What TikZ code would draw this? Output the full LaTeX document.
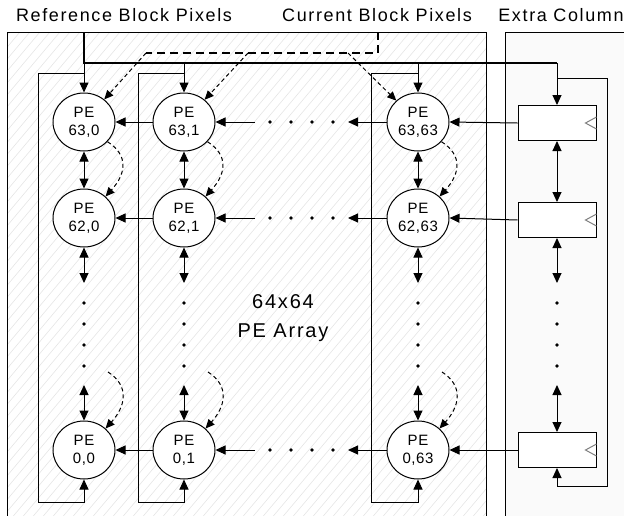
\documentclass[tikz,border=0pt]{standalone}
\usepackage{fontspec}
\setmainfont{Liberation Sans}
\newfontfamily\lblfont[LetterSpace=9]{Liberation Sans}
\newfontfamily\pefont[LetterSpace=4]{Liberation Sans}
\usetikzlibrary{shapes.geometric,arrows.meta}

\tikzset{
  pe/.style={ellipse,draw,fill=white,minimum width=62pt,minimum height=58pt,inner sep=0pt,align=center,font=\fontsize{15}{18}\pefont},
  reg/.style={rectangle,draw,fill=white,minimum width=78pt,minimum height=35pt,inner sep=0pt},
  arr/.style={-{Triangle[length=10pt,width=9pt]}},
  darr/.style={{Triangle[length=10pt,width=9pt]}-{Triangle[length=10pt,width=9pt]}},
  dasharr/.style={dash pattern=on 4pt off 3pt,-{Triangle[length=9pt,width=8pt]}},
  bus/.style={line width=2.5pt},
  lbl/.style={font=\fontsize{18}{20}\lblfont},
}

\begin{document}
\begin{tikzpicture}[x=1pt,y=-1pt,line width=1pt]
\useasboundingbox (0,0) rectangle (624,515);
% hatched array panel and the extra column panel
\begin{scope}
  \clip (7,32) rectangle (486,520);
  \foreach \i in {-45,...,49}
    \draw[black!10,line width=0.6pt] (\i*10,520) -- ++(420,-500);
\end{scope}
\draw (7,32) rectangle (486,520);
\filldraw[fill=black!2] (505,32) rectangle (630,520);

% titles
\node[lbl] (reflbl) at (124,15) {Reference Block Pixels};
\node[lbl] (curlbl) at (377,15) {Current Block Pixels};
\node[lbl] (extlbl) at (561,15) {Extra Column};
\node[font=\fontsize{20}{29}\lblfont,align=center] (arrlbl) at (283,318) {64x64\\PE Array};

% the PEs, row by row
\node[pe] (p630) at (84,122) {PE\\63,0};
\node[pe] (p631) at (184,122) {PE\\63,1};
\node[pe] (p6363) at (418,122) {PE\\63,63};
\node[pe] (p620) at (84,218) {PE\\62,0};
\node[pe] (p621) at (184,218) {PE\\62,1};
\node[pe] (p6263) at (418,218) {PE\\62,63};
\node[pe] (p00) at (84,450) {PE\\0,0};
\node[pe] (p01) at (184,450) {PE\\0,1};
\node[pe] (p063) at (418,450) {PE\\0,63};

% registers of the extra column
\node[reg] (r63) at (557,123) {};
\node[reg] (r62) at (557,220) {};
\node[reg] (r0) at (557,450) {};
\foreach \r in {63,62,0}
  \draw[black!50] ([yshift=6pt]r\r.east) -- ++(-11,6) -- ++(11,6);

% free ends
\foreach \r/\y in {63/122,62/218,0/450} {
  \coordinate (din\r) at (255,\y);
  \coordinate (dout\r) at (348,\y);
  \foreach \x in {270,291,312,333} \fill (\x,\y) circle (1.8pt);
}
\foreach \c/\x/\lx in {0/84/38,1/184/138,63/418/371,x/557/607} {
  \coordinate (vt\c) at (\x,283);
  \coordinate (vb\c) at (\x,385);
  \coordinate (bus\c) at (\x,63);
  \coordinate (top\c) at (\x,73);
  \coordinate (lb\c) at (\lx,502);
  \coordinate (cv\c) at (\x+24,372);
  \foreach \y in {303,324,345,366} \fill (\x,\y) circle (1.8pt);
}
\coordinate (reftop) at (84,32);
\coordinate (curtop) at (378,32);
\coordinate (curbend) at (378,53);
\coordinate (cf0) at (146,53);
\coordinate (cf1) at (248,53);
\coordinate (cf63) at (348,53);
\coordinate (topx) at (557,78);
\coordinate (lbx) at (607,486);

% data flow along the rows
\foreach \r in {63,62,0} {
  \draw[arr] (p\r1.west) -- (p\r0.east);
  \draw[arr] (din\r) -- (p\r1.east);
  \draw[arr] (p\r63.west) -- (dout\r);
  \draw[arr] (r\r.west) -- (p\r63.east);
}

% columns: shifts, feeds and wrap-around
\foreach \c in {0,1,63} {
  \draw[darr] (p63\c.south) -- (p62\c.north);
  \draw[darr] (p62\c.south) -- (vt\c);
  \draw[darr] (vb\c) -- (p0\c.north);
  \draw[arr] (bus\c) -- (p63\c.north);
  \draw[arr] (top\c) -| (lb\c) -| (p0\c.south);
  \draw[dasharr] (cf\c) -- (p63\c);
  \draw[dasharr] (p63\c.-40) .. controls +(22,14) and +(20,-22) .. (p62\c.45);
  \draw[dasharr] (cv\c) .. controls +(22,14) and +(20,-22) .. (p0\c.45);
}
\draw[darr] (r63.south) -- (r62.north);
\draw[darr] (r62.south) -- (vtx);
\draw[darr] (vbx) -- (r0.north);
\draw[arr] (busx) -- (r63.north);
\draw[arr] (topx) -| (lbx) -| (r0.south);

% the two input buses
\draw[bus] (reftop) -- (bus0) -- (busx);
\draw[bus,dash pattern=on 8pt off 5pt] (curtop) -- (curbend) -- (cf0);
\end{tikzpicture}
\end{document}
